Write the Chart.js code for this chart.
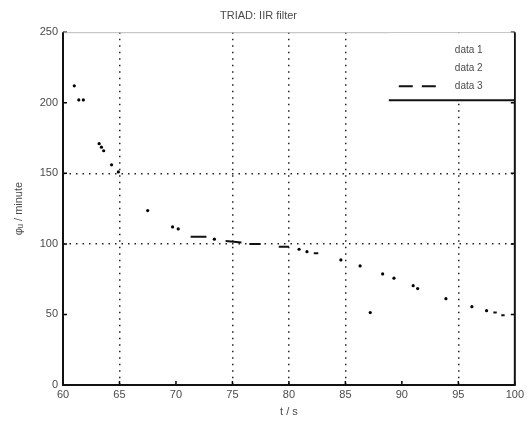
<!DOCTYPE html>
<html>
<head>
<meta charset="utf-8">
<script src="https://cdn.jsdelivr.net/npm/chart.js@4"></script>
<style>
html,body{margin:0;padding:0;background:#fff;}
#wrap{width:527px;height:424px;}
</style>
</head>
<body>
<div id="wrap"><canvas id="c" width="527" height="424"></canvas></div>
<script>
// ---- data ----
const titleText = "TRIAD: IIR filter";
const xTitle = "t / s";
const yTitle = "\u03c6\u1d64 / minute";
const seriesNames = ["data 1", "data 2", "data 3"];
const xTicks = [60, 65, 70, 75, 80, 85, 90, 95, 100];
const yTicks = [0, 50, 100, 150, 200, 250];
const xGridShown = [65, 75, 80, 85, 95];
const yGridShown = [100, 150];

const t1 = [61.0, 61.4, 61.8, 63.2, 63.4, 63.6, 64.3, 64.9, 67.5, 69.7, 70.2, 73.4];
const v1 = [212, 202, 202, 171, 168.5, 166, 156, 151, 123.6, 112, 110.6, 103.3];

const t2 = [80.9, 81.6, 84.6, 86.3, 87.2, 88.3, 89.3, 91.0, 91.4, 93.9, 96.2, 97.5];
const v2 = [96.2, 94.5, 88.6, 84.4, 51.3, 78.7, 75.7, 70.4, 68.3, 61.2, 55.5, 52.7];

const t3 = [71.3, 72.7, null, 74.4, 75.8, null, 76.5, 77.5, null, 79.1, 80.0, null, 82.2, 82.6, null, 98.1, 98.4, null, 98.8, 99.1];
const v3 = [105, 105, null, 102, 101, null, 100, 100, null, 98, 98, null, 93.4, 93.4, null, 51.3, 51.3, null, 49.4, 49.4];

function pts(ts, vs) {
  return ts.map((t, i) => ({ x: t === null ? NaN : t, y: vs[i] }));
}

const FONT = "'Liberation Sans', Arial, sans-serif";
const TXT = "#4a4a4a";

const frame = {
  id: "frame",
  afterDatasetsDraw(chart) {
    const { ctx, chartArea: a, scales } = chart;
    ctx.save();
    // inner tick marks
    ctx.strokeStyle = "#000";
    ctx.lineWidth = 1.5;
    yTicks.forEach(v => {
      const y = scales.y.getPixelForValue(v);
      ctx.beginPath();
      ctx.moveTo(a.left, y); ctx.lineTo(a.left + 4, y);
      ctx.moveTo(a.right, y); ctx.lineTo(a.right - 4, y);
      ctx.stroke();
    });
    xTicks.forEach(v => {
      const x = scales.x.getPixelForValue(v);
      ctx.beginPath();
      ctx.moveTo(x, a.bottom); ctx.lineTo(x, a.bottom - 4);
      ctx.stroke();
    });
    // box
    ctx.strokeStyle = "#bbb";
    ctx.lineWidth = 1;
    ctx.beginPath();
    ctx.moveTo(a.left, a.top + 0.5); ctx.lineTo(a.right, a.top + 0.5);
    ctx.stroke();
    ctx.strokeStyle = "#111";
    ctx.lineWidth = 2;
    ctx.beginPath();
    ctx.moveTo(a.left, a.top); ctx.lineTo(a.left, a.bottom); ctx.lineTo(a.right, a.bottom); ctx.lineTo(a.right, a.top);
    ctx.stroke();

    // legend box (top-right inside plot)
    const lw = 126, lh = 68;
    const lx = a.right - lw, ly = a.top;
    ctx.fillStyle = "#fff";
    ctx.fillRect(lx, ly + 1, lw - 1, lh);
    ctx.strokeStyle = "#111";
    ctx.lineWidth = 2;
    ctx.beginPath();
    ctx.moveTo(lx, ly + lh); ctx.lineTo(a.right, ly + lh);
    ctx.stroke();
    ctx.font = "10px " + FONT;
    ctx.fillStyle = TXT;
    ctx.textAlign = "left";
    ctx.textBaseline = "middle";
    seriesNames.forEach((name, i) => {
      const yy = ly + 18 + i * 18;
      ctx.fillText(name, lx + 66, yy);
      if (i === 2) {
        ctx.strokeStyle = "#111";
        ctx.lineWidth = 2;
        ctx.setLineDash([14, 9]);
        ctx.beginPath();
        ctx.moveTo(lx + 10, yy); ctx.lineTo(lx + 52, yy);
        ctx.stroke();
        ctx.setLineDash([]);
      }
    });
    ctx.restore();
  }
};

new Chart(document.getElementById("c"), {
  type: "scatter",
  data: {
    datasets: [
      { label: seriesNames[0], data: pts(t1, v1), showLine: false, pointRadius: 1.6, pointBackgroundColor: "#000", pointBorderWidth: 0 },
      { label: seriesNames[1], data: pts(t2, v2), showLine: false, pointRadius: 1.6, pointBackgroundColor: "#000", pointBorderWidth: 0 },
      { label: seriesNames[2], data: pts(t3, v3), showLine: true, spanGaps: false, borderColor: "#111", borderWidth: 2, pointRadius: 0 }
    ]
  },
  options: {
    responsive: false,
    animation: false,
    layout: { padding: { left: 0, right: 10, top: 0, bottom: 0 } },
    plugins: {
      legend: { display: false },
      tooltip: { enabled: false },
      title: {
        display: true, text: titleText, color: TXT,
        font: { family: FONT, size: 11, weight: "normal" },
        padding: { top: 9, bottom: 10 }
      }
    },
    scales: {
      x: {
        type: "linear", min: 60, max: 100,
        afterBuildTicks(s) { s.ticks = xTicks.map(v => ({ value: v })); },
        afterFit(s) { s.height = 39; },
        border: { display: false, dash: [1.5, 5] },
        grid: {
          drawTicks: false, lineWidth: 1.5,
          color: c => xGridShown.includes(c.tick && c.tick.value) ? "#222" : "rgba(0,0,0,0)"
        },
        ticks: { color: TXT, font: { family: FONT, size: 11 }, padding: 3, maxRotation: 0 },
        title: { display: true, text: xTitle, color: TXT, font: { family: FONT, size: 11 }, padding: { top: 0, bottom: 5 } }
      },
      y: {
        type: "linear", min: 0, max: 250,
        afterBuildTicks(s) { s.ticks = yTicks.map(v => ({ value: v })); },
        afterFit(s) { s.width = 63; },
        border: { display: false, dash: [1.5, 5] },
        grid: {
          drawTicks: false, lineWidth: 1.5,
          color: c => yGridShown.includes(c.tick && c.tick.value) ? "#222" : "rgba(0,0,0,0)"
        },
        ticks: { color: TXT, font: { family: FONT, size: 11 }, padding: 5 },
        title: { display: true, text: yTitle, color: TXT, font: { family: FONT, size: 11 }, padding: { top: 12, bottom: 0 } }
      }
    }
  },
  plugins: [frame]
});
</script>
</body>
</html>
